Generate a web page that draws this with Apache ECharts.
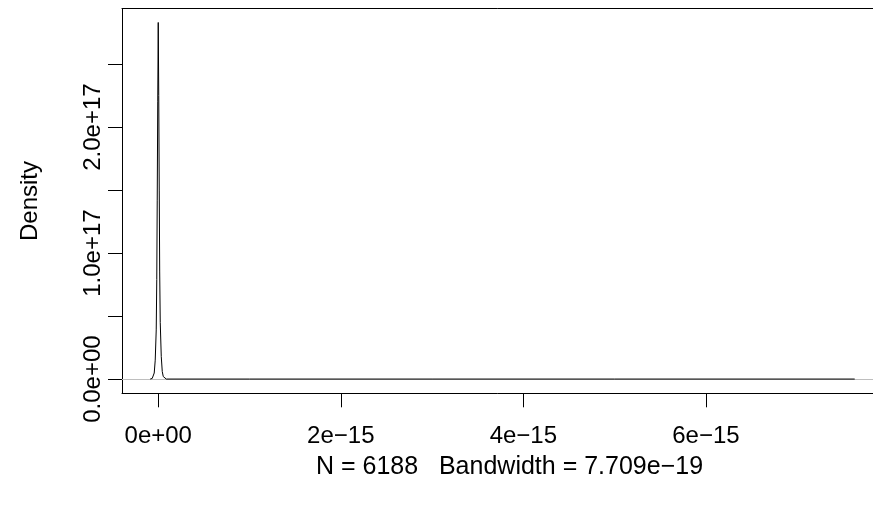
<!DOCTYPE html>
<html>
<head>
<meta charset="utf-8">
<script src="https://cdn.jsdelivr.net/npm/echarts@6/dist/echarts.min.js"></script>
<style>
html,body{margin:0;padding:0;background:#fff;}
#chart{width:873px;height:506px;}
</style>
</head>
<body>
<div id="chart"></div>
<script>
// Density curve (x values, density values)
const densityX = [-8.8e-17, -6.6e-17, -5.5e-17, -4.4e-17, -3.3e-17, -2.2e-17, -1.6e-17, -1.1e-17, -0.55e-17, 0,
                  0.55e-17, 1.1e-17, 1.6e-17, 2.2e-17, 3.3e-17, 4.4e-17, 5.5e-17, 6.6e-17, 8.8e-17, 1.0e-15, 3.0e-15, 5.0e-15, 7.63e-15];
const densityY = [0, 0.5e15, 1.6e15, 4.8e15, 1.5e16, 3.9e16, 7.9e16, 1.42e17, 2.2e17, 2.83e17,
                  2.25e17, 1.5e17, 8.5e16, 4.5e16, 1.8e16, 6e15, 2e15, 0.6e15, 0, 0, 0, 0, 0];
const xTicks = [0, 2e-15, 4e-15, 6e-15];
const yTicks = [0, 5e16, 1e17, 1.5e17, 2e17, 2.5e17];
const yLabelTicks = [0, 1e17, 2e17];
const xLimits = [-3.97e-16, 7.94e-15];
const yLimits = [-1.13e16, 2.94e17];
const subTitle = 'N = 6188   Bandwidth = 7.709e\u221219';
const yTitle = 'Density';

function padExp(s) {
  return s.replace(/e([+-])(\d)$/, 'e$10$2').replace('-', '\u2212');
}
function fmtX(v) { return padExp(Number(v).toExponential(0)); }
function fmtY(v) { return padExp(Number(v).toExponential(1)); }

const FONT = 'Liberation Sans';
const chart = echarts.init(document.getElementById('chart'), null, {renderer: 'canvas'});
chart.setOption({
  animation: false,
  backgroundColor: '#ffffff',
  grid: {left: 122, top: 8.6, width: 761, height: 384.7, outerBoundsMode: 'none', containLabel: false, show: false},
  xAxis: [{
    type: 'value', min: xLimits[0], max: xLimits[1], position: 'bottom',
    axisLine: {show: true, onZero: false, lineStyle: {color: '#000', width: 1}},
    splitLine: {show: false},
    axisTick: {show: true, inside: false, length: 14, lineStyle: {color: '#000'}, customValues: xTicks},
    axisLabel: {customValues: xTicks, formatter: fmtX, color: '#000', fontFamily: FONT, fontSize: 24, margin: 31}
  }, {
    type: 'value', min: xLimits[0], max: xLimits[1], position: 'top',
    axisLine: {show: true, onZero: false, lineStyle: {color: '#000', width: 1}},
    splitLine: {show: false}, axisTick: {show: false}, axisLabel: {show: false}
  }],
  yAxis: {
    type: 'value', min: yLimits[0], max: yLimits[1],
    axisLine: {show: true, onZero: false, lineStyle: {color: '#000', width: 1}},
    splitLine: {show: false},
    axisTick: {show: true, inside: false, length: 14, lineStyle: {color: '#000'}, customValues: yTicks},
    axisLabel: {customValues: yLabelTicks, formatter: fmtY, rotate: 90, color: '#000', fontFamily: FONT, fontSize: 24, margin: 17}
  },
  graphic: [
    {type: 'text', x: 509.5, y: 467, style: {text: subTitle, fill: '#000', font: '25px "Liberation Sans"', textAlign: 'center', textVerticalAlign: 'middle'}},
    {type: 'text', x: 30, y: 201, rotation: Math.PI / 2, style: {text: yTitle, fill: '#000', font: '24px "Liberation Sans"', textAlign: 'center', textVerticalAlign: 'middle'}}
  ],
  series: [
    {
      type: 'line', showSymbol: false, silent: true,
      data: densityX.map((x, i) => [x, densityY[i]]),
      lineStyle: {color: '#000', width: 1},
      markLine: {silent: true, symbol: 'none', label: {show: false}, lineStyle: {color: '#bebebe', width: 1, type: 'solid'}, data: [{yAxis: 0}], z: 1},
      z: 3
    }
  ]
});
</script>
</body>
</html>
